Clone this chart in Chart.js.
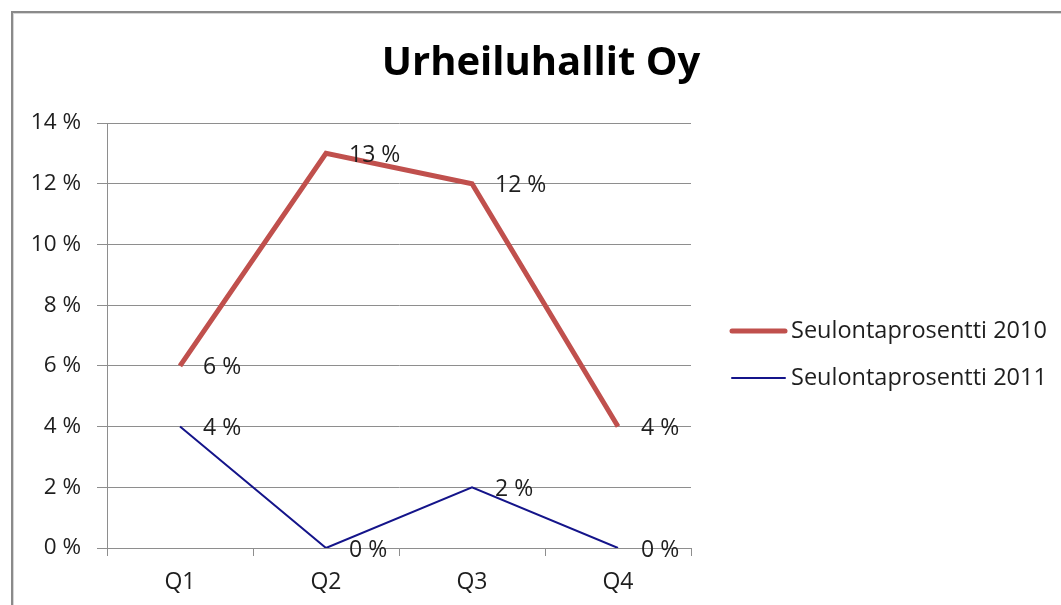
<!DOCTYPE html>
<html>
<head>
<meta charset="utf-8">
<title>Urheiluhallit Oy</title>
<script src="https://cdn.jsdelivr.net/npm/chart.js@4"></script>
<style>
    html, body {
        margin: 0;
        padding: 0;
        background: #ffffff;
        overflow: hidden;
    }
    #frame {
        position: absolute;
        left: 11px;
        top: 11px;
        width: 1200px;
        height: 800px;
        border-left: 2px solid #8a8a8a;
        border-top: 2px solid #8a8a8a;
        box-shadow: inset 1px 1px 0 #d6d6d6;
    }
    #chart {
        position: absolute;
        left: 0;
        top: 0;
    }
</style>
</head>
<body>
<div id="frame"></div>
<canvas id="chart" width="1082" height="605"></canvas>
<script>
// Quarterly screening rates (%)
const quarters = ['Q1', 'Q2', 'Q3', 'Q4'];
const rate2010 = [6, 13, 12, 4];
const rate2011 = [4, 0, 2, 0];
const seriesNames = ['Seulontaprosentti 2010', 'Seulontaprosentti 2011'];

// Value axis range
const yMin = 0;
const yMax = 14;
const yStep = 2;

const fontFamily = '"Open Sans", "Noto Sans", sans-serif';
const textColor = '#1e1e1e';
const gridColor = '#8e8e8e';

// Writes "13 %" style labels to the right of every point
const pointLabels = {
    id: 'pointLabels',
    afterDatasetsDraw(chart) {
        const ctx = chart.ctx;
        ctx.save();
        ctx.font = '23px ' + fontFamily;
        ctx.fillStyle = textColor;
        ctx.textAlign = 'left';
        ctx.textBaseline = 'middle';
        chart.data.datasets.forEach((ds, i) => {
            chart.getDatasetMeta(i).data.forEach((pt, j) => {
                ctx.fillText(ds.data[j] + ' %', pt.x + 23, pt.y + 2);
            });
        });
        ctx.restore();
    }
};

// Legend drawn in the space kept free right of the plot
const sideLegend = {
    id: 'sideLegend',
    afterDraw(chart) {
        const ctx = chart.ctx;
        const x0 = chart.chartArea.right + 41;
        ctx.save();
        ctx.font = '23.5px ' + fontFamily;
        ctx.fillStyle = textColor;
        ctx.textBaseline = 'middle';
        ctx.lineCap = 'round';
        chart.data.datasets.forEach((ds, i) => {
            const y = 331 + i * 47;
            ctx.strokeStyle = ds.borderColor;
            ctx.lineWidth = ds.borderWidth;
            ctx.beginPath();
            ctx.moveTo(x0, y);
            ctx.lineTo(x0 + 53, y);
            ctx.stroke();
            ctx.fillText(ds.label, x0 + 59, y);
        });
        ctx.restore();
    }
};

const chart = new Chart(document.getElementById('chart'), {
    type: 'line',
    data: {
        labels: quarters,
        datasets: [
            {
                label: seriesNames[0],
                data: rate2010,
                borderColor: '#c0504d',
                borderWidth: 5,
                pointRadius: 0,
                tension: 0,
                fill: false
            },
            {
                label: seriesNames[1],
                data: rate2011,
                borderColor: '#14148a',
                borderWidth: 2,
                pointRadius: 0,
                tension: 0,
                fill: false
            }
        ]
    },
    options: {
        responsive: false,
        animation: false,
        layout: { padding: 0 },
        plugins: {
            legend: { display: false },
            tooltip: { enabled: false },
            title: {
                display: true,
                text: 'Urheiluhallit Oy',
                color: '#000000',
                font: { family: fontFamily, size: 40, weight: 'bold', lineHeight: 1.2 },
                padding: { top: 40, bottom: 35 }
            }
        },
        scales: {
            x: {
                offset: true,
                grid: {
                    offset: true,
                    drawOnChartArea: false,
                    drawTicks: true,
                    tickLength: 8,
                    color: gridColor
                },
                border: { color: gridColor },
                ticks: {
                    color: textColor,
                    padding: 13,
                    font: { family: fontFamily, size: 23 }
                },
                afterFit: scale => { scale.height = 57; }
            },
            y: {
                min: yMin,
                max: yMax,
                ticks: {
                    stepSize: yStep,
                    color: textColor,
                    padding: 16,
                    font: { family: fontFamily, size: 22.5 },
                    callback: v => v + ' %'
                },
                grid: { color: gridColor, tickLength: 10 },
                border: { color: gridColor },
                afterFit: scale => { scale.width = 107; }
            },
            // empty axis that only keeps room for the legend
            spacer: {
                type: 'linear',
                position: 'right',
                grid: { display: false },
                border: { display: false },
                ticks: { display: false },
                afterFit: scale => { scale.width = 391; }
            }
        }
    },
    plugins: [pointLabels, sideLegend]
});
</script>
</body>
</html>
